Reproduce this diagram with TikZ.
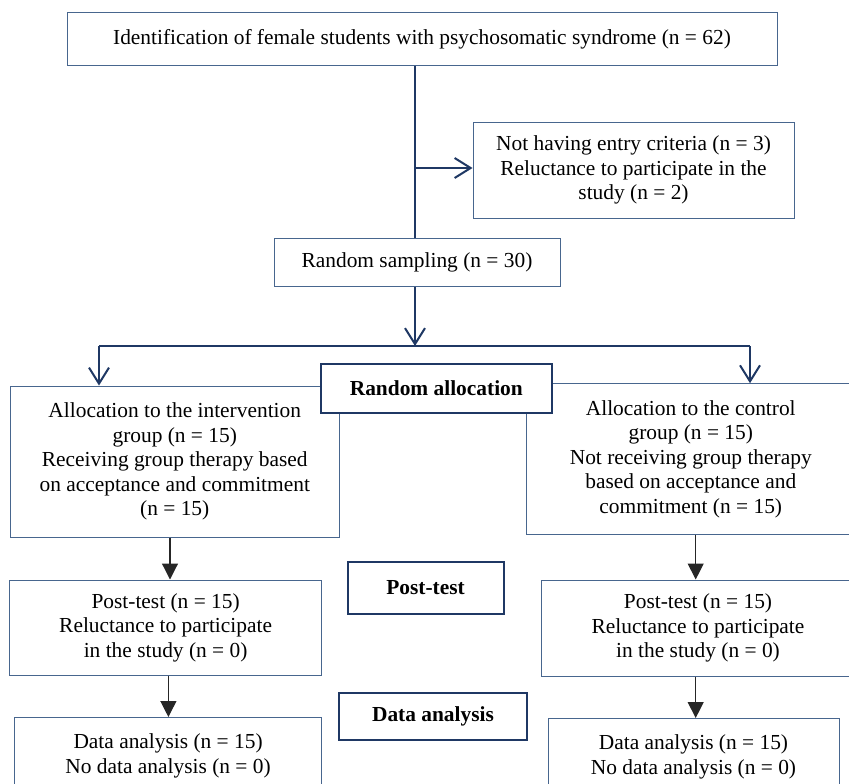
\documentclass[tikz,border=0pt]{standalone}
\usepackage{fontspec}
\setmainfont{Liberation Serif}
\usetikzlibrary{arrows.meta}
\definecolor{navy}{RGB}{31,56,100}
\definecolor{boxblue}{RGB}{72,102,142}
\begin{document}
\begin{tikzpicture}[x=1pt,y=-1pt,
  box/.style={draw=boxblue,line width=1pt,fill=white,align=center,inner sep=0pt,font=\fontsize{21.4}{24.5}\selectfont},
  lab/.style={draw=navy,line width=2pt,fill=white,align=center,inner sep=0pt,font=\fontsize{21.4}{24.5}\selectfont\bfseries},
  conn/.style={draw=navy,line width=2pt},
  openarrow/.style={conn,-{Straight Barb[length=16pt,width=20pt,line width=2pt]}},
  solidarrow/.style={draw=black!85,line width=1.2pt,-{Triangle[length=16pt,width=16pt]}}
]
\useasboundingbox (0,0) rectangle (849,784);

\node[box,minimum width=710pt,minimum height=53pt] (top) at (422,39.5) {Identification of female students with psychosomatic syndrome (n = 62)};
\node[box,minimum width=321pt,minimum height=96pt] (excl) at (633.5,170) {Not having entry criteria (n = 3)\\Reluctance to participate in the\\study (n = 2)};
\node[box,minimum width=286pt,minimum height=48pt] (rs) at (417,262) {Random sampling (n = 30)};

\node[box,minimum width=329.5pt,minimum height=151pt] (lalloc) at (174.75,461.5) {Allocation to the intervention\\group (n = 15)\\Receiving group therapy based\\on acceptance and commitment\\(n = 15)};
\node[box,minimum width=328.5pt,minimum height=150.3pt] (ralloc) at (690.75,458.85) {Allocation to the control\\group (n = 15)\\Not receiving group therapy\\based on acceptance and\\commitment (n = 15)};
\node[lab,minimum width=230.7pt,minimum height=49pt] (ra) at (436.3,388) {Random allocation};

\node[box,minimum width=312pt,minimum height=95pt] (lpost) at (165.6,627.5) {Post-test (n = 15)\\Reluctance to participate\\in the study (n = 0)};
\node[box,minimum width=314pt,minimum height=96pt] (rpost) at (698,628) {Post-test (n = 15)\\Reluctance to participate\\in the study (n = 0)};
\node[lab,minimum width=156pt,minimum height=52.7pt] (pt) at (425.5,588) {Post-test};

\node[box,minimum width=307pt,minimum height=77pt] (lda) at (168.1,756) {Data analysis (n = 15)\\No data analysis (n = 0)};
\node[box,minimum width=291pt,minimum height=77pt] (rda) at (693.5,757) {Data analysis (n = 15)\\No data analysis (n = 0)};
\node[lab,minimum width=188pt,minimum height=47pt] (da) at (433,716) {Data analysis};

\coordinate (vx) at (415,0);
\coordinate (branch) at (415,168);
\coordinate (split) at (415,346);
\coordinate (lsplit) at (99,346);
\coordinate (rsplit) at (750,346);
\coordinate (la) at (170,0);
\coordinate (lb) at (168.4,0);
\coordinate (rx) at (695.7,0);

\draw[conn] (top.south -| vx) -- (rs.north -| vx);
\draw[openarrow] (branch) -- (branch -| excl.west);
\draw[openarrow] (rs.south -| vx) -- (split);
\draw[conn] (lsplit) -- (rsplit);
\draw[openarrow] (lsplit) -- (lsplit |- lalloc.north);
\draw[openarrow] (rsplit) -- (rsplit |- ralloc.north);

\draw[solidarrow] (lalloc.south -| la) -- (lpost.north -| la);
\draw[solidarrow] (lpost.south -| lb) -- (lda.north -| lb);
\draw[solidarrow] (ralloc.south -| rx) -- (rpost.north -| rx);
\draw[solidarrow] (rpost.south -| rx) -- (rda.north -| rx);
\end{tikzpicture}
\end{document}
